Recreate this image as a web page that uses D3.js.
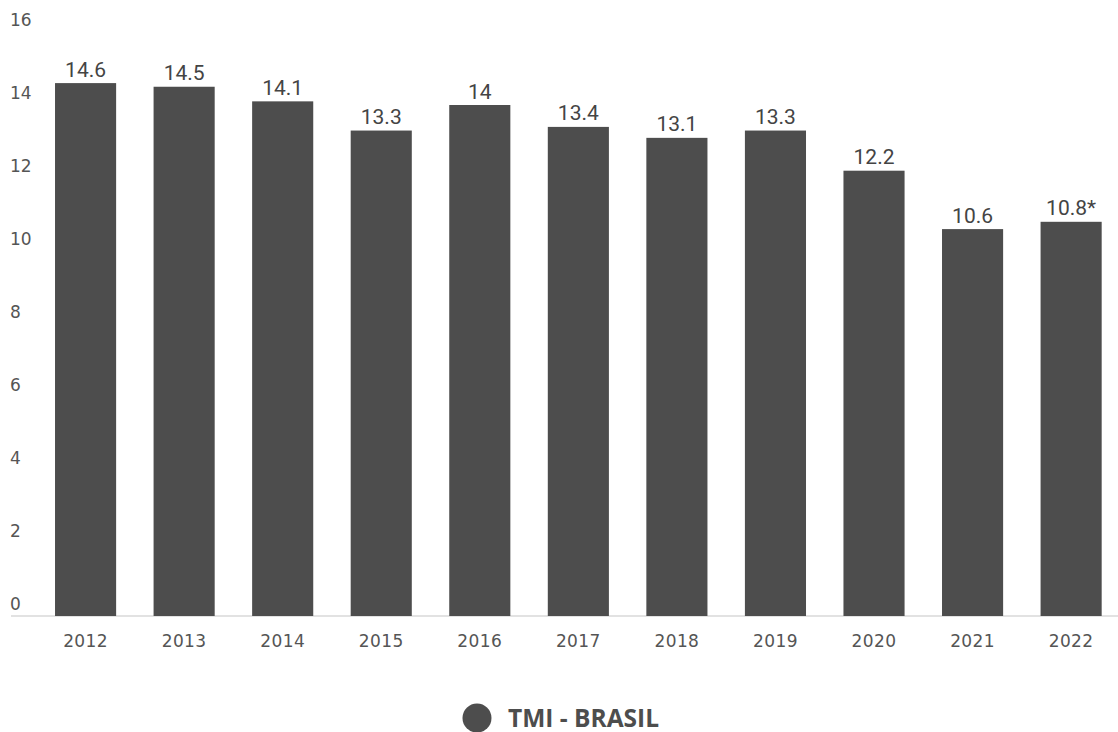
<!DOCTYPE html>
<html>
<head>
<meta charset="utf-8">
<script src="https://d3js.org/d3.v7.min.js"></script>
<style>
  body { margin: 0; background: #fff; }
</style>
</head>
<body>
<div id="chart"></div>
<script>
const years = ['2012','2013','2014','2015','2016','2017','2018','2019','2020','2021','2022'];
const tmi = [14.6, 14.5, 14.1, 13.3, 14, 13.4, 13.1, 13.3, 12.2, 10.6, 10.8];
const valueLabels = ['14.6','14.5','14.1','13.3','14','13.4','13.1','13.3','12.2','10.6','10.8*'];
const yTicks = [0, 2, 4, 6, 8, 10, 12, 14, 16];
const seriesName = 'TMI - BRASIL';

const width = 1118, height = 732;
const barColor = '#4d4d4d';

const svg = d3.select('#chart').append('svg')
  .attr('width', width)
  .attr('height', height)
  .style('background', '#fff');

const x = d3.scaleBand()
  .domain(years)
  .range([36.3, 1120.4])
  .paddingInner(0.38)
  .paddingOuter(0.19);

const y = d3.scaleLinear()
  .domain([0, 16])
  .range([616, 32]);

// baseline
svg.append('line')
  .attr('x1', 11).attr('x2', width)
  .attr('y1', y(0)).attr('y2', y(0))
  .attr('stroke', '#d9d9d9')
  .attr('stroke-width', 1.5);

// y tick labels sit just above their value
svg.append('g')
  .selectAll('text')
  .data(yTicks)
  .join('text')
  .attr('x', 10)
  .attr('y', d => y(d) - 6)
  .attr('font-family', '"DejaVu Sans", sans-serif')
  .attr('font-size', 17)
  .attr('fill', '#555')
  .text(d => d);

svg.append('g')
  .selectAll('rect')
  .data(tmi)
  .join('rect')
  .attr('x', (d, i) => x(years[i]))
  .attr('width', x.bandwidth())
  .attr('y', d => y(d))
  .attr('height', d => y(0) - y(d))
  .attr('fill', barColor);

svg.append('g')
  .selectAll('text')
  .data(tmi)
  .join('text')
  .attr('x', (d, i) => x(years[i]) + x.bandwidth() / 2)
  .attr('y', d => y(d) - 6.5)
  .attr('text-anchor', 'middle')
  .attr('font-family', 'Roboto, sans-serif')
  .attr('font-size', 21)
  .attr('fill', '#444')
  .text((d, i) => valueLabels[i]);

// x axis labels
svg.append('g')
  .selectAll('text')
  .data(years)
  .join('text')
  .attr('x', d => x(d) + x.bandwidth() / 2)
  .attr('y', 647)
  .attr('text-anchor', 'middle')
  .attr('font-family', '"DejaVu Sans", sans-serif')
  .attr('font-size', 17)
  .attr('letter-spacing', 0.4)
  .attr('fill', '#555')
  .text(d => d);

// legend
const legend = svg.append('g').attr('transform', 'translate(477, 718)');
legend.append('circle')
  .attr('r', 14.5)
  .attr('fill', barColor);
legend.append('text')
  .attr('x', 31)
  .attr('y', 8.5)
  .attr('font-family', '"Open Sans", sans-serif')
  .attr('font-weight', 700)
  .attr('font-size', 24.5)
  .attr('fill', '#4d4d4d')
  .text(seriesName);
</script>
</body>
</html>
